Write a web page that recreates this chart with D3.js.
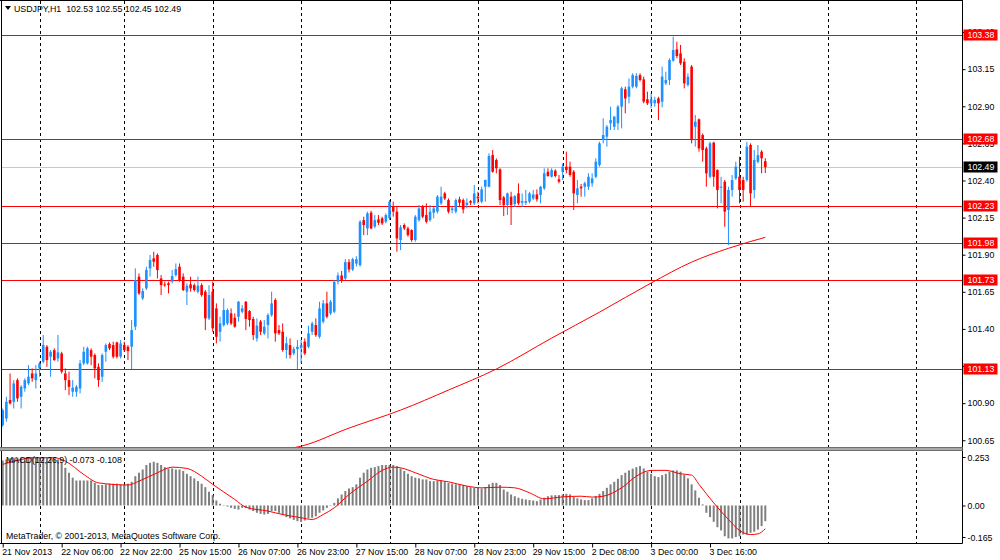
<!DOCTYPE html>
<html>
<head>
<meta charset="utf-8">
<script src="https://cdn.jsdelivr.net/npm/d3@7"></script>
<style>
body { margin: 0; background: #fff; }
svg text { font-family: "Liberation Sans", Arial, sans-serif; font-size: 8.8px; fill: #000; white-space: pre; }
</style>
</head>
<body>
<div id="chart"></div>
<script>
// USDJPY H1 bars, left to right
var openPrices = [100.752,100.797,100.921,100.909,101.055,100.943,100.999,101.033,101.100,101.055,
  101.134,101.179,101.280,101.213,101.257,101.201,101.235,101.100,101.055,100.977,
  100.977,100.999,101.168,101.168,101.257,101.224,101.145,101.078,101.246,101.298,
  101.291,101.309,101.213,101.291,101.280,101.280,101.415,101.752,101.606,101.673,
  101.808,101.875,101.898,101.740,101.700,101.707,101.718,101.763,101.819,101.752,
  101.651,101.700,101.695,101.651,101.695,101.651,101.471,101.651,101.538,101.381,
  101.426,101.437,101.505,101.475,101.482,101.516,101.583,101.520,101.467,101.336,
  101.449,101.370,101.426,101.493,101.595,101.392,101.381,101.258,101.291,101.235,
  101.264,101.273,101.314,101.280,101.381,101.426,101.347,101.449,101.572,101.505,
  101.516,101.718,101.760,101.740,101.850,101.800,101.840,101.830,102.133,102.077,
  102.183,102.089,102.138,102.145,102.122,102.145,102.223,102.190,101.999,102.100,
  102.077,102.066,101.999,102.133,102.223,102.167,102.133,102.183,102.190,102.246,
  102.313,102.268,102.201,102.190,102.273,102.268,102.235,102.261,102.246,102.291,
  102.257,102.358,102.358,102.571,102.538,102.475,102.286,102.235,102.291,102.241,
  102.313,102.250,102.250,102.257,102.279,102.306,102.302,102.347,102.459,102.425,
  102.466,102.408,102.459,102.493,102.493,102.459,102.302,102.358,102.358,102.358,
  102.381,102.425,102.504,102.673,102.695,102.785,102.762,102.785,102.897,103.014,
  102.964,103.032,103.032,103.110,103.081,102.947,102.920,102.920,102.953,102.931,
  103.054,103.077,103.207,103.283,103.256,103.200,103.043,103.167,102.762,102.812,
  102.706,102.616,102.425,102.655,102.470,102.354,102.392,102.201,102.336,102.414,
  102.425,102.403,102.403,102.639,102.336,102.526,102.594,102.530];
var highPrices = [100.864,100.943,101.100,101.055,101.067,101.022,101.067,101.156,101.134,101.156,
  101.179,101.359,101.291,101.257,101.269,101.359,101.246,101.134,101.112,101.055,
  101.022,101.190,101.280,101.280,101.269,101.235,101.168,101.235,101.302,101.309,
  101.314,101.314,101.325,101.314,101.291,101.460,101.808,101.774,101.673,101.819,
  101.898,101.920,101.909,101.763,101.718,101.718,101.797,101.841,101.841,101.774,
  101.707,101.752,101.707,101.752,101.707,101.662,101.695,101.718,101.572,101.482,
  101.606,101.538,101.538,101.505,101.588,101.561,101.588,101.527,101.482,101.471,
  101.460,101.460,101.505,101.651,101.606,101.426,101.437,101.347,101.336,101.280,
  101.325,101.325,101.336,101.422,101.449,101.471,101.583,101.595,101.651,101.595,
  101.729,101.780,101.790,101.870,101.870,101.880,101.890,102.133,102.156,102.190,
  102.196,102.167,102.167,102.156,102.178,102.268,102.257,102.223,102.100,102.111,
  102.089,102.071,102.167,102.235,102.235,102.246,102.235,102.223,102.302,102.358,
  102.324,102.279,102.223,102.279,102.291,102.279,102.279,102.268,102.369,102.324,
  102.358,102.407,102.583,102.605,102.549,102.482,102.295,102.318,102.324,102.302,
  102.380,102.313,102.336,102.324,102.336,102.340,102.363,102.482,102.482,102.482,
  102.475,102.437,102.515,102.594,102.527,102.470,102.403,102.376,102.392,102.448,
  102.448,102.549,102.661,102.819,102.774,102.897,102.834,102.908,103.032,103.032,
  103.088,103.122,103.122,103.122,103.099,102.998,102.987,102.964,102.964,103.167,
  103.133,103.223,103.369,103.335,103.313,103.223,103.122,103.178,102.841,102.818,
  102.717,102.628,102.661,102.661,102.475,102.425,102.403,102.358,102.437,102.526,
  102.560,102.425,102.661,102.650,102.605,102.639,102.605,102.550];
var lowPrices = [100.741,100.775,100.891,100.864,100.909,100.864,100.977,101.022,101.044,100.999,
  101.078,101.168,101.145,101.078,101.185,101.179,101.100,100.988,100.954,100.943,
  100.943,100.966,101.156,101.160,101.156,101.067,101.010,101.044,101.179,101.257,
  101.201,101.201,101.201,101.246,101.190,101.130,101.392,101.628,101.594,101.662,
  101.752,101.819,101.740,101.628,101.684,101.639,101.707,101.752,101.718,101.655,
  101.561,101.651,101.651,101.639,101.617,101.392,101.460,101.381,101.302,101.314,
  101.415,101.426,101.426,101.408,101.449,101.505,101.392,101.415,101.325,101.314,
  101.359,101.359,101.336,101.482,101.314,101.359,101.246,101.201,101.201,101.224,
  101.130,101.168,101.224,101.269,101.359,101.347,101.336,101.437,101.471,101.493,
  101.505,101.700,101.710,101.730,101.780,101.790,101.820,101.819,102.032,102.032,
  102.071,102.077,102.100,102.100,102.111,102.133,102.156,101.920,101.931,102.066,
  102.021,101.987,101.987,102.122,102.145,102.111,102.122,102.145,102.178,102.235,
  102.268,102.178,102.178,102.178,102.223,102.178,102.212,102.235,102.235,102.246,
  102.246,102.257,102.354,102.452,102.448,102.235,102.160,102.167,102.100,102.223,
  102.235,102.223,102.235,102.246,102.268,102.257,102.246,102.336,102.425,102.420,
  102.420,102.381,102.403,102.448,102.425,102.201,102.246,102.291,102.291,102.336,
  102.358,102.414,102.493,102.650,102.628,102.740,102.740,102.740,102.751,102.852,
  102.920,103.021,103.021,103.066,102.920,102.908,102.886,102.897,102.807,102.893,
  103.043,103.043,103.200,103.223,103.178,103.021,103.032,102.650,102.628,102.594,
  102.526,102.358,102.414,102.358,102.212,102.246,102.088,101.965,102.291,102.403,
  102.246,102.257,102.392,102.223,102.279,102.515,102.448,102.450];
var closePrices = [100.853,100.909,100.898,101.033,100.932,101.010,101.055,101.078,101.067,101.100,
  101.168,101.291,101.190,101.246,101.190,101.242,101.112,101.055,101.010,101.004,
  101.010,101.168,101.246,101.269,101.213,101.134,101.055,101.224,101.291,101.269,
  101.213,101.213,101.302,101.257,101.251,101.392,101.729,101.639,101.655,101.797,
  101.864,101.853,101.797,101.695,101.695,101.695,101.756,101.803,101.729,101.662,
  101.691,101.673,101.662,101.691,101.628,101.471,101.628,101.404,101.347,101.437,
  101.527,101.527,101.437,101.415,101.583,101.538,101.467,101.460,101.359,101.422,
  101.381,101.415,101.493,101.572,101.370,101.370,101.258,101.303,101.224,101.264,
  101.280,101.291,101.235,101.370,101.437,101.359,101.538,101.572,101.482,101.583,
  101.718,101.760,101.730,101.850,101.800,101.870,101.870,102.122,102.100,102.178,
  102.077,102.133,102.115,102.111,102.167,102.257,102.190,102.010,102.084,102.077,
  102.032,101.999,102.156,102.212,102.156,102.122,102.190,102.212,102.291,102.291,
  102.279,102.190,102.212,102.268,102.250,102.205,102.250,102.250,102.313,102.279,
  102.340,102.403,102.565,102.459,102.482,102.268,102.235,102.313,102.235,102.295,
  102.246,102.261,102.261,102.313,102.306,102.273,102.358,102.448,102.430,102.470,
  102.430,102.392,102.493,102.470,102.437,102.313,102.347,102.347,102.381,102.425,
  102.414,102.527,102.650,102.706,102.762,102.807,102.830,102.897,103.021,102.953,
  103.032,103.110,103.104,103.077,102.931,102.920,102.947,102.942,102.920,103.100,
  103.077,103.212,103.279,103.238,103.189,103.054,103.099,102.672,102.796,102.616,
  102.605,102.448,102.650,102.425,102.336,102.358,102.190,102.336,102.403,102.493,
  102.336,102.336,102.628,102.313,102.538,102.571,102.549,102.490];

// moving average (read at a few bars)
var maBars = [72, 77, 81, 94, 108, 121, 134, 149, 162, 176, 187, 197, 207];
var maValues = [100.565, 100.59, 100.61, 100.732, 100.853, 100.988, 101.13, 101.338, 101.513, 101.709, 101.85, 101.943, 102.017];

// MACD(12,26,9) histogram, one value per bar
var macdHist = [0.209,0.214,0.219,0.222,0.222,0.222,0.222,0.222,0.222,0.222,
  0.222,0.225,0.222,0.222,0.219,0.214,0.198,0.175,0.152,0.129,
  0.116,0.116,0.116,0.116,0.116,0.105,0.095,0.095,0.098,0.101,
  0.101,0.101,0.098,0.095,0.101,0.110,0.136,0.152,0.167,0.188,
  0.198,0.203,0.198,0.188,0.178,0.172,0.172,0.167,0.167,0.160,
  0.147,0.136,0.126,0.113,0.101,0.085,0.064,0.048,0.023,0.008,
  0.002,-0.005,-0.011,-0.016,-0.019,-0.011,-0.011,-0.019,-0.026,-0.034,
  -0.039,-0.042,-0.039,-0.026,-0.026,-0.034,-0.045,-0.054,-0.060,-0.067,
  -0.073,-0.076,-0.070,-0.060,-0.057,-0.050,-0.034,-0.023,-0.011,0.002,
  0.012,0.033,0.051,0.067,0.079,0.085,0.098,0.129,0.152,0.167,
  0.175,0.178,0.183,0.188,0.188,0.188,0.188,0.183,0.172,0.160,
  0.147,0.136,0.129,0.126,0.121,0.121,0.113,0.113,0.116,0.116,
  0.110,0.105,0.101,0.098,0.098,0.095,0.090,0.085,0.082,0.082,
  0.079,0.085,0.098,0.105,0.105,0.095,0.074,0.064,0.051,0.043,
  0.036,0.031,0.028,0.025,0.023,0.020,0.028,0.036,0.043,0.047,
  0.048,0.048,0.051,0.054,0.051,0.039,0.033,0.028,0.025,0.025,
  0.033,0.043,0.054,0.067,0.082,0.098,0.110,0.124,0.141,0.152,
  0.163,0.171,0.178,0.183,0.172,0.157,0.147,0.136,0.132,0.141,
  0.147,0.157,0.163,0.163,0.157,0.141,0.126,0.098,0.070,0.036,
  0.005,-0.034,-0.054,-0.076,-0.101,-0.116,-0.143,-0.153,-0.153,-0.147,
  -0.143,-0.135,-0.135,-0.127,-0.122,-0.112,-0.096,-0.073];
var signalBars = [0, 4, 8, 14, 17, 22, 26, 34, 37, 42, 46, 50, 54, 57, 63, 66, 72, 76, 81, 84, 87, 90, 94, 99,
  103, 106, 108, 112, 117, 121, 126, 130, 135, 139, 143, 147, 152, 157, 160, 163, 168, 172, 176, 180,
  184, 187, 189, 193, 197, 200, 203, 205, 207];
var signalValues = [0.191, 0.209, 0.222, 0.222, 0.206, 0.144, 0.105, 0.095, 0.113, 0.152, 0.178, 0.172, 0.136, 0.098,
  0.028, -0.008, -0.026, -0.042, -0.057, -0.065, -0.042, -0.011, 0.051, 0.113, 0.163, 0.178, 0.175, 0.152,
  0.121, 0.110, 0.090, 0.082, 0.085, 0.082, 0.059, 0.031, 0.040, 0.043, 0.039, 0.043, 0.082, 0.136, 0.163,
  0.163, 0.147, 0.141, 0.098, 0.012, -0.065, -0.116, -0.135, -0.132, -0.108];

// horizontal levels and axis ticks
var levels = [103.38, 102.68, 102.23, 101.98, 101.73, 101.13];
var bidPrice = 102.49;
var priceTicks = [100.65, 100.90, 101.15, 101.40, 101.65, 101.90, 102.15, 102.40, 102.65, 102.90, 103.15, 103.40];
// labels that sit fully under a level box are not printed
var hiddenTickLabels = [101.15];
var macdTicks = [0.253, 0.00, -0.165];
var macdTickLabels = ["0.253", "0.00", "-0.165"];
var dayStartBars = [10, 33, 57, 81, 105, 129, 152, 176, 200, 224, 248];
var timeLabelBars = [0, 16, 32, 48, 64, 80, 96, 112, 128, 144, 160, 176, 192];
var timeLabels = ["21 Nov 2013", "22 Nov 06:00", "22 Nov 22:00", "25 Nov 15:00", "26 Nov 07:00", "26 Nov 23:00",
  "27 Nov 15:00", "28 Nov 07:00", "28 Nov 23:00", "29 Nov 15:00", "2 Dec 08:00", "3 Dec 00:00", "3 Dec 16:00"];

var svgWidth = 1000;
var svgHeight = 560;
var axisX = 962.5;
var mainTop = 1, mainBottom = 447;
var macdTop = 451, macdBottom = 543;

var bullColor = "#1e90ff";
var bearColor = "#ff0000";

var svg = d3.select("#chart")
    .append("svg")
    .attr("width", svgWidth)
    .attr("height", svgHeight);

var x = d3.scaleLinear().domain([0, 207]).range([2.7, 2.7 + 3.684 * 207]);
var y = d3.scaleLinear().domain([101.13, 103.38]).range([369, 35]);
var yMacd = d3.scaleLinear().domain([-0.165, 0.253]).range([541, 451]);

var defs = svg.append("defs");
defs.append("clipPath").attr("id", "clipMain")
    .append("rect").attr("x", 2).attr("y", mainTop + 1).attr("width", axisX - 2).attr("height", mainBottom - mainTop - 1);
defs.append("clipPath").attr("id", "clipMacd")
    .append("rect").attr("x", 2).attr("y", macdTop + 1).attr("width", axisX - 2).attr("height", macdBottom - macdTop - 1);

// day separators in both panels
var grid = svg.append("g");
dayStartBars.forEach(function(b) {
    var gx = Math.round(x(b)) + 0.5;
    grid.append("line").attr("x1", gx).attr("x2", gx).attr("y1", mainTop).attr("y2", mainBottom)
        .attr("stroke", "#000").attr("stroke-dasharray", "3,3");
    grid.append("line").attr("x1", gx).attr("x2", gx).attr("y1", macdTop + 1).attr("y2", macdBottom)
        .attr("stroke", "#000").attr("stroke-dasharray", "3,3");
});

var mainGroup = svg.append("g").attr("clip-path", "url(#clipMain)");

// bid line
mainGroup.append("line")
    .attr("x1", 0).attr("x2", axisX)
    .attr("y1", Math.round(y(bidPrice)) + 0.5).attr("y2", Math.round(y(bidPrice)) + 0.5)
    .attr("stroke", "#c8c8c8");

// support / resistance levels
mainGroup.selectAll(".level")
    .data(levels)
    .enter().append("line")
    .attr("x1", 0).attr("x2", axisX)
    .attr("y1", d => Math.round(y(d)) + 0.5)
    .attr("y2", d => Math.round(y(d)) + 0.5)
    .attr("stroke", "#ff0000");

// moving average
var maLine = d3.line()
    .x((d, i) => x(maBars[i]))
    .y(d => y(d))
    .curve(d3.curveMonotoneX);
mainGroup.append("path")
    .attr("d", maLine(maValues))
    .attr("fill", "none")
    .attr("stroke", "#ff0000")
    .attr("stroke-width", 1);

// candles
var bars = d3.range(openPrices.length);
var candles = mainGroup.selectAll(".candle")
    .data(bars)
    .enter().append("g");
candles.append("line")
    .attr("x1", i => x(i)).attr("x2", i => x(i))
    .attr("y1", i => y(highPrices[i])).attr("y2", i => y(lowPrices[i]))
    .attr("stroke", i => closePrices[i] >= openPrices[i] ? bullColor : bearColor)
    .attr("stroke-width", 1);
candles.append("rect")
    .attr("x", i => x(i) - 1.3)
    .attr("width", 2.6)
    .attr("y", i => y(Math.max(openPrices[i], closePrices[i])))
    .attr("height", i => Math.max(1, Math.abs(y(openPrices[i]) - y(closePrices[i]))))
    .attr("fill", i => closePrices[i] >= openPrices[i] ? bullColor : bearColor);

// MACD panel
var macdGroup = svg.append("g").attr("clip-path", "url(#clipMacd)");
macdGroup.selectAll(".hist")
    .data(macdHist)
    .enter().append("rect")
    .attr("x", (d, i) => x(i) - 1)
    .attr("width", 2)
    .attr("y", d => yMacd(Math.max(0, d)))
    .attr("height", d => Math.abs(yMacd(d) - yMacd(0)))
    .attr("fill", "#7f7f7f");

var sigLine = d3.line()
    .x((d, i) => x(signalBars[i]))
    .y(d => yMacd(d))
    .curve(d3.curveMonotoneX);
macdGroup.append("path")
    .attr("d", sigLine(signalValues))
    .attr("fill", "none")
    .attr("stroke", "#ff0000")
    .attr("stroke-width", 1);

// frame and separator
svg.append("line").attr("x1", 1.5).attr("x2", 1.5).attr("y1", 0).attr("y2", macdBottom).attr("stroke", "#000");
svg.append("line").attr("x1", 0).attr("x2", axisX).attr("y1", 0.5).attr("y2", 0.5).attr("stroke", "#000");
svg.append("line").attr("x1", axisX).attr("x2", axisX).attr("y1", 0).attr("y2", macdBottom + 0.5).attr("stroke", "#000");
svg.append("line").attr("x1", 0).attr("x2", axisX).attr("y1", macdBottom + 0.5).attr("y2", macdBottom + 0.5).attr("stroke", "#000");
svg.append("rect").attr("x", 0).attr("y", mainBottom).attr("width", axisX).attr("height", 4).attr("fill", "#a8a8a8");
svg.append("line").attr("x1", 0).attr("x2", axisX).attr("y1", mainBottom + 0.5).attr("y2", mainBottom + 0.5).attr("stroke", "#6e6e6e");
svg.append("line").attr("x1", 0).attr("x2", axisX).attr("y1", mainBottom + 3.5).attr("y2", mainBottom + 3.5).attr("stroke", "#6e6e6e");

// price axis
var priceAxis = d3.axisRight(y)
    .tickValues(priceTicks)
    .tickSize(3)
    .tickPadding(2)
    .tickFormat(d => hiddenTickLabels.indexOf(d) >= 0 ? "" : d3.format(".2f")(d));
var priceAxisG = svg.append("g")
    .attr("transform", `translate(${axisX}, 0)`)
    .call(priceAxis);
priceAxisG.select(".domain").remove();
priceAxisG.selectAll("text").style("font-family", "Liberation Sans, Arial, sans-serif").style("font-size", "8.8px");

// level labels
var levelLabels = svg.selectAll(".levelLabel")
    .data(levels)
    .enter().append("g")
    .attr("transform", d => `translate(${axisX + 1}, ${Math.round(y(d))})`);
levelLabels.append("rect")
    .attr("x", 0).attr("y", -5.5).attr("width", 34).attr("height", 11)
    .attr("fill", "#ff0000");
levelLabels.append("text")
    .attr("x", 4).attr("y", 3)
    .style("fill", "#fff")
    .text(d => d3.format(".2f")(d));

var bidLabel = svg.append("g")
    .attr("transform", `translate(${axisX + 1}, ${Math.round(y(bidPrice))})`);
bidLabel.append("rect").attr("x", 0).attr("y", -5.5).attr("width", 34).attr("height", 11).attr("fill", "#000");
bidLabel.append("text").attr("x", 4).attr("y", 3).style("fill", "#fff").text(d3.format(".2f")(bidPrice));

// MACD axis
var macdAxisG = svg.append("g");
macdTicks.forEach(function(t, i) {
    var ty = [457.5, 506, 537.5][i];
    macdAxisG.append("line").attr("x1", axisX).attr("x2", axisX + 3).attr("y1", ty).attr("y2", ty).attr("stroke", "#000");
    macdAxisG.append("text").attr("x", axisX + 5).attr("y", ty + 3).text(macdTickLabels[i]);
});

// time axis
var timeAxis = d3.axisBottom(x)
    .tickValues(timeLabelBars)
    .tickSize(4)
    .tickPadding(1)
    .tickFormat((d, i) => timeLabels[i]);
var timeAxisG = svg.append("g")
    .attr("transform", `translate(0, ${macdBottom + 0.5})`)
    .call(timeAxis);
timeAxisG.select(".domain").remove();
timeAxisG.selectAll("text")
    .attr("text-anchor", "start")
    .attr("dx", "-1")
    .style("font-family", "Liberation Sans, Arial, sans-serif").style("font-size", "8.8px");

// titles
svg.append("path").attr("d", "M5,6 L11,6 L8,10 Z").attr("fill", "#000");
svg.append("text").attr("x", 14).attr("y", 12)
    .text("USDJPY,H1  102.53 102.55 102.45 102.49");
svg.append("text").attr("x", 6).attr("y", 463)
    .text("MACD(12,26,9) -0.073 -0.108");
svg.append("text").attr("x", 6).attr("y", 539)
    .text("MetaTrader, \u00a9 2001-2013, MetaQuotes Software Corp.");
</script>
</body>
</html>
